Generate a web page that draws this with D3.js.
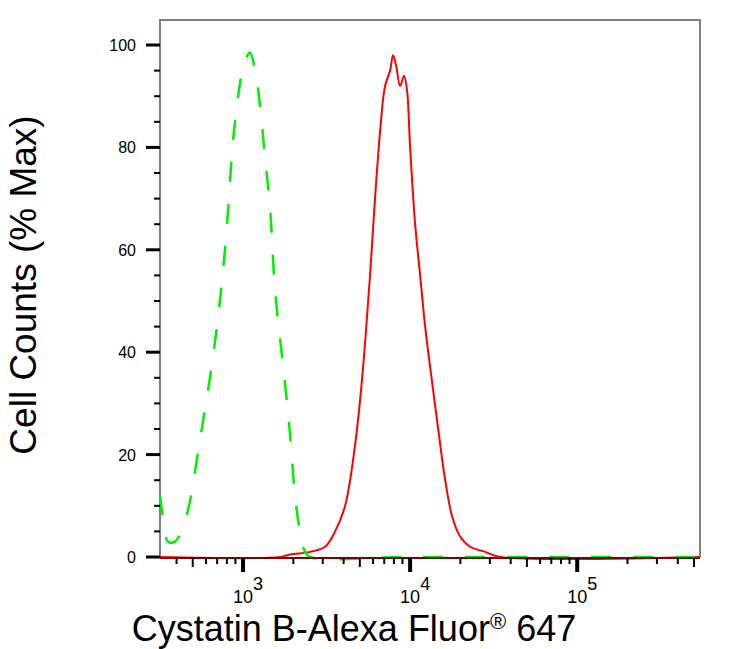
<!DOCTYPE html>
<html><head><meta charset="utf-8">
<script src="https://cdn.jsdelivr.net/npm/d3@7"></script>
<style>body{margin:0;background:#fff}text{font-family:"Liberation Sans",Arial,sans-serif}</style>
</head><body><svg id="c" width="749" height="649"></svg>
<script>
// log10(intensity), % max
const greenLog = [2.503,2.515,2.551,2.593,2.653,2.743,2.832,2.892,2.952,3.012,3.042,3.072,3.102,3.132,3.162,3.192,3.251,3.281,3.311,3.341,3.371,3.401,4.0,5.0,5.73];
const greenVal = [12,9,3,3,7,23,42,60,85,97,98.5,95,88,78,68,52,34,24,12,5,1,0,0,0,0];
const redLog = [2.503,3.222,3.281,3.401,3.491,3.551,3.611,3.671,3.713,3.760,3.790,3.820,3.850,3.880,3.898,3.916,3.940,3.964,3.982,4.0,4.030,4.060,4.090,4.132,4.168,4.210,4.251,4.299,4.359,4.449,4.539,5.73];
const redVal = [0,0,0.5,1,2,5,10,22,35,55,70,83,92,95,98,96,92,94,91,80,65,55,45,34,25,15,8,4,2,1,0,0];
const yTicks = [0,20,40,60,80,100];
const xDecades = [3,4,5];

const svg = d3.select("#c");
const L=160,R=700,T=20,B=557;
const x = d3.scaleLog().domain([Math.pow(10,2.503),Math.pow(10,5.735)]).range([L,R]);
const y = d3.scaleLinear().domain([0,100]).range([B,45]);

svg.append("path").attr("d",`M${L},${B}V${T}H${R}V${B}`).attr("fill","none").attr("stroke","#808080").attr("stroke-width",2);

const line = d3.line().x(d=>x(Math.pow(10,d[0]))).y(d=>y(d[1])).curve(d3.curveCatmullRom);
svg.append("path").datum(redLog.map((v,i)=>[v,redVal[i]])).attr("d",line).attr("fill","none").attr("stroke","#ff0000").attr("stroke-width",2);
svg.append("path").datum(greenLog.map((v,i)=>[v,greenVal[i]])).attr("d",line).attr("fill","none").attr("stroke","#00ee00").attr("stroke-width",2.5).attr("stroke-dasharray","20,22");
svg.append("line").attr("x1",L).attr("x2",R).attr("y1",B+1).attr("y2",B+1).attr("stroke","#800000").attr("stroke-width",2);

for(let v=0;v<=100;v+=5){
  const maj=v%20===0;
  svg.append("line").attr("x1",maj?146:154).attr("x2",L).attr("y1",y(v)).attr("y2",y(v)).attr("stroke","#000").attr("stroke-width",maj?3:2);
}
svg.selectAll(".yl").data(yTicks).enter().append("text").attr("x",136).attr("y",d=>y(d)+6).attr("text-anchor","end").attr("font-size",16).text(d=>d);

const minors=[];
for(let e=2;e<=5;e++)for(let m=1;m<10;m++){const v=m*Math.pow(10,e);if(v>=x.domain()[0]&&v<=x.domain()[1])minors.push([v,m]);}
minors.forEach(([v,m])=>{
  const len=m===1?14:(m===5?9:6);
  svg.append("line").attr("x1",x(v)).attr("x2",x(v)).attr("y1",B+1).attr("y2",B+1+len).attr("stroke","#000").attr("stroke-width",m===1?4:2);
});
xDecades.forEach(e=>{
  const g=svg.append("text").attr("x",x(Math.pow(10,e))-10).attr("y",603).attr("font-size",18);
  g.append("tspan").text("10");
  g.append("tspan").attr("dy",-13).attr("font-size",18).text(e);
});

svg.append("text").attr("x",354).attr("y",641).attr("text-anchor","middle").attr("font-size",36)
  .html('Cystatin B-Alexa Fluor<tspan font-size="22" dy="-12">®</tspan><tspan dy="12"> 647</tspan>');
svg.append("text").attr("transform","translate(36,285) rotate(-90)").attr("text-anchor","middle").attr("font-size",37).text("Cell Counts (% Max)");
</script></body></html>
